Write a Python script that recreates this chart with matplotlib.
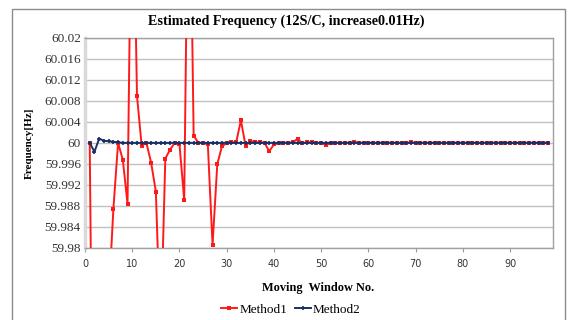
import matplotlib
matplotlib.use("Agg")
import matplotlib.pyplot as plt
from matplotlib.patches import Rectangle

# Moving window index and estimated frequencies (Hz)
windows = list(range(1, 99))

method1 = [
    60.0, 59.907, 59.92, 59.95, 59.97, 59.9873, 60.0, 59.9968, 59.9884, 60.062,
    60.009, 59.9994, 60.0, 59.9962, 59.9907, 59.963, 59.997, 59.9987, 60.0, 59.9997,
    59.9891, 60.065, 60.0014, 60.0, 60.0, 59.9997, 59.9805, 59.9959, 59.9994, 59.9999,
    60.0001, 60.0001, 60.0043, 59.9994, 60.0004, 60.0001, 60.0001, 60.0, 59.9984, 59.9997,
    59.9999, 60.0, 60.0, 60.0001, 60.0008, 59.9999, 60.0001, 60.0001, 60.0, 60.0,
    59.9996, 59.9999, 60.0, 60.0, 60.0, 60.0, 60.0002, 60.0, 60.0, 60.0,
    60.0, 60.0, 60.0, 60.0, 60.0, 60.0, 60.0, 60.0, 60.0001, 60.0,
    60.0, 60.0, 60.0, 60.0, 60.0, 60.0, 60.0, 60.0, 60.0, 60.0,
    60.0, 60.0, 60.0, 60.0, 60.0, 60.0, 60.0, 60.0, 60.0, 60.0,
    60.0, 60.0, 60.0, 60.0, 60.0, 60.0, 60.0, 60.0,
]

method2 = [
    60.0, 59.9983, 60.0008, 60.0004, 60.0003, 60.0002, 60.0001, 60.0, 60.0, 60.0,
    60.0, 60.0, 60.0, 60.0, 60.0, 60.0, 60.0, 60.0, 60.0, 60.0,
    60.0, 60.0, 60.0, 60.0, 60.0, 60.0, 60.0, 60.0, 60.0, 60.0,
    60.0, 60.0, 60.0, 60.0, 60.0, 60.0, 60.0, 60.0, 60.0, 60.0,
    60.0, 60.0, 60.0, 60.0, 60.0, 60.0, 60.0, 60.0, 60.0, 60.0,
    60.0, 60.0, 60.0, 60.0, 60.0, 60.0, 60.0, 60.0, 60.0, 60.0,
    60.0, 60.0, 60.0, 60.0, 60.0, 60.0, 60.0, 60.0, 60.0, 60.0,
    60.0, 60.0, 60.0, 60.0, 60.0, 60.0, 60.0, 60.0, 60.0, 60.0,
    60.0, 60.0, 60.0, 60.0, 60.0, 60.0, 60.0, 60.0, 60.0, 60.0,
    60.0, 60.0, 60.0, 60.0, 60.0, 60.0, 60.0, 60.0,
]

y_ticks = [59.98, 59.984, 59.988, 59.992, 59.996, 60.0, 60.004, 60.008, 60.012, 60.016, 60.02]
y_tick_labels = ["59.98", "59.984", "59.988", "59.992", "59.996", "60",
                 "60.004", "60.008", "60.012", "60.016", "60.02"]
x_ticks = [0, 10, 20, 30, 40, 50, 60, 70, 80, 90]

W, H = 568, 320
fig = plt.figure(figsize=(W / 100, H / 100), dpi=100)
fig.patch.set_facecolor("white")

# chart frame
fig.patches.append(Rectangle((12 / W, -0.05), (565 - 12) / W, 1 - 9 / H + 0.05,
                             transform=fig.transFigure, fill=False,
                             edgecolor="#8c8c8c", linewidth=1.0))

left, right, top, bottom = 85 / W, 552.7 / W, 1 - 38 / H, 1 - 247.7 / H
ax = fig.add_axes([left, bottom, right - left, top - bottom])

serif = "Liberation Serif"

ax.plot(windows, method1, color="#ff1a1a", linewidth=1.4, marker="s",
        markersize=3.2, markeredgewidth=0, label="Method1", zorder=3)
ax.plot(windows, method2, color="#1a2f66", linewidth=1.4, marker="+",
        markersize=3.0, markeredgewidth=1.2, label="Method2", zorder=4)

ax.set_xlim(0, 99)
ax.set_ylim(59.98, 60.02)
ax.set_yticks(y_ticks)
ax.set_yticklabels(y_tick_labels, fontfamily=serif, fontsize=9.5)
ax.set_xticks(x_ticks)
ax.set_xticklabels([str(t) for t in x_ticks], fontfamily="DejaVu Sans", fontsize=7, color="#333333")
ax.tick_params(axis="y", length=0, pad=3, colors="#333333")
ax.tick_params(axis="x", length=3, width=0.8, color="#9a9a9a", pad=5)

ax.grid(axis="y", color="#c0c0c0", linewidth=1.0)
ax.set_axisbelow(True)
for side in ["top", "right", "bottom"]:
    ax.spines[side].set_color("#a0a0a0")
    ax.spines[side].set_linewidth(1.0)
ax.spines["left"].set_color("#d9d9d9")
ax.spines["left"].set_linewidth(2.5)

fig.text(286 / W, 1 - 21.5 / H, "Estimated Frequency (12S/C, increase0.01Hz)",
         ha="center", va="center", fontfamily=serif, fontweight="bold", fontsize=10.2)
fig.text(29 / W, 1 - 143 / H, "Frequency[Hz]", rotation=90, ha="center", va="center",
         fontfamily=serif, fontweight="bold", fontsize=8)
fig.text(318.5 / W, 1 - 287.5 / H, "Moving  Window No.", ha="center", va="center",
         fontfamily=serif, fontweight="bold", fontsize=8.8)

fig.legend(loc="center", bbox_to_anchor=(291 / W, 1 - 309.5 / H), ncol=2, frameon=False,
           prop={"family": serif, "size": 9.5}, handlelength=1.2, handletextpad=0.15,
           columnspacing=0.6)

fig.savefig("out.png", dpi=100)
